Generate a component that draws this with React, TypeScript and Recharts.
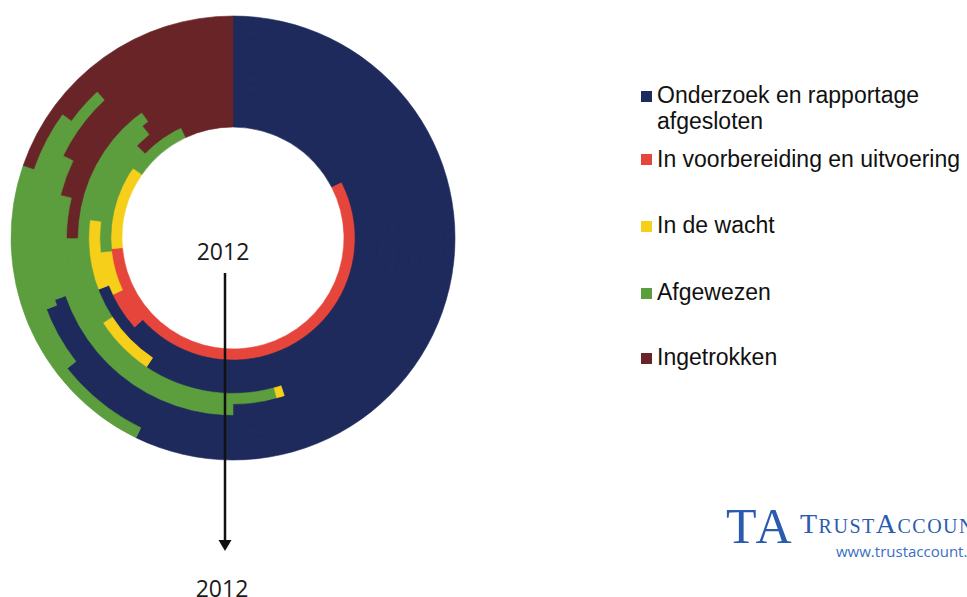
import React from "react";
import { PieChart, Pie, Cell } from "recharts";

// Status categories (legend order = clockwise order in every ring)
const CATEGORIES = [
  "Onderzoek en rapportage afgesloten",
  "In voorbereiding en uitvoering",
  "In de wacht",
  "Afgewezen",
  "Ingetrokken",
];
const LEGEND_LINES = [
  ["Onderzoek en rapportage", "afgesloten"],
  ["In voorbereiding en uitvoering"],
  ["In de wacht"],
  ["Afgewezen"],
  ["Ingetrokken"],
];
const COLORS = ["#1d2a5b", "#e5453a", "#f6cf1a", "#5c9d3d", "#692428"];

// Rings from inside (2012) to outside; values are % of each ring
const RINGS = ["R1", "R2", "R3", "R4", "R5", "R6", "R7", "R8", "R9", "R10"];
const afgesloten = [17.5, 63.3, 69.2, 59.4, 45.0, 50.0, 69.7, 69.2, 64.4, 57.2];
const uitvoering = [56.1, 4.7, 0, 0, 0, 0, 0, 0, 0, 0];
const wacht = [11.1, 5.3, 7.8, 6.4, 0.8, 0, 0, 0, 0, 0];
const afgewezen = [8.3, 13.9, 12.2, 24.2, 29.2, 28.9, 12.5, 18.9, 20.6, 23.1];
const ingetrokken = [7.0, 12.8, 10.8, 10.0, 25.0, 21.1, 17.8, 11.9, 15.0, 19.7];

const SERIES = [afgesloten, uitvoering, wacht, afgewezen, ingetrokken];

const CX = 233;
const CY = 238;
const INNER = 111;
const RING_W = 11.1;

export default function App() {
  const ringData = RINGS.map((_, i) =>
    CATEGORIES.map((name, c) => ({ name, value: SERIES[c][i] }))
  );
  const last = RINGS.length - 1;

  return (
    <div
      style={{
        position: "absolute",
        left: 0,
        top: 0,
        width: 967,
        height: 597,
        overflow: "hidden",
        background: "#ffffff",
      }}
    >
      <PieChart width={967} height={597} margin={{ top: 0, right: 0, bottom: 0, left: 0 }}>
        {ringData.map((data, i) => (
          <Pie
            key={RINGS[i]}
            data={data}
            dataKey="value"
            nameKey="name"
            cx={CX}
            cy={CY}
            innerRadius={INNER + RING_W * i}
            outerRadius={INNER + RING_W * (i + 1) + (i === last ? 0 : 1.5)}
            startAngle={90}
            endAngle={-270}
            stroke="none"
            paddingAngle={0}
            isAnimationActive={false}
          >
            {data.map((d, c) => (
              <Cell key={d.name} fill={COLORS[c]} stroke={COLORS[c]} strokeWidth={0.6} />
            ))}
          </Pie>
        ))}
      </PieChart>

      <svg
        width={967}
        height={597}
        style={{ position: "absolute", left: 0, top: 0, pointerEvents: "none" }}
      >
        <text
          x={223}
          y={260}
          textAnchor="middle"
          fontFamily="'Open Sans', sans-serif"
          fontSize={23}
          fill="#1a1a1a"
        >
          2012
        </text>
        <line x1={225} y1={273} x2={225} y2={542} stroke="#111" strokeWidth={2.5} />
        <polygon points="218.5,540 231.5,540 225,551" fill="#111" />
        <text
          x={222}
          y={597}
          textAnchor="middle"
          fontFamily="'Open Sans', sans-serif"
          fontSize={23}
          fill="#1a1a1a"
        >
          2012
        </text>

        <text x={726} y={543} fontFamily="'Liberation Serif', serif" fontSize={50} fill="#2b5bb0" letterSpacing={3}>
          TA
        </text>
        <text x={800} y={533} fontFamily="'Liberation Serif', serif" fill="#2b5bb0" letterSpacing={1.5}>
          <tspan fontSize={28}>T</tspan>
          <tspan fontSize={20}>RUST</tspan>
          <tspan fontSize={28}>A</tspan>
          <tspan fontSize={20}>CCOUNT</tspan>
        </text>
        <text x={836} y={557} fontFamily="'Open Sans', sans-serif" fontSize={15} fill="#3a6ec6">
          www.trustaccount.nl
        </text>
      </svg>

      <div
        style={{
          position: "absolute",
          left: 0,
          top: 0,
          fontFamily: "Arial, 'Liberation Sans', sans-serif",
          fontSize: 23,
          color: "#111",
        }}
      >
        {LEGEND_LINES.map((lines, c) => {
          const baselines = [103, 166.5, 233, 300, 365];
          const b = baselines[c];
          return (
            <React.Fragment key={CATEGORIES[c]}>
              <div
                style={{
                  position: "absolute",
                  left: 641,
                  top: b - 12.5,
                  width: 11,
                  height: 11,
                  background: COLORS[c],
                }}
              />
              {lines.map((ln, k) => (
                <div
                  key={ln}
                  style={{
                    position: "absolute",
                    left: 657,
                    top: b + k * 26 - 21,
                    whiteSpace: "nowrap",
                    lineHeight: "26px",
                  }}
                >
                  {ln}
                </div>
              ))}
            </React.Fragment>
          );
        })}
      </div>
    </div>
  );
}
